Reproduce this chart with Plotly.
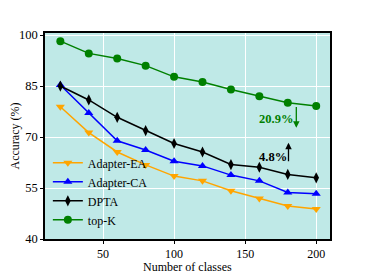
import plotly.graph_objects as go

classes = [20, 40, 60, 80, 100, 120, 140, 160, 180, 200]
adapter_ea = [78.9, 71.3, 65.6, 61.8, 58.5, 57.1, 54.2, 51.9, 49.7, 48.8]
adapter_ca = [85.3, 77.1, 68.9, 66.2, 62.9, 61.5, 58.8, 57.1, 53.7, 53.3]
dpta = [85.0, 80.9, 75.8, 71.9, 68.1, 65.6, 61.9, 61.1, 59.0, 58.0]
top_k = [98.2, 94.6, 93.1, 91.0, 87.7, 86.2, 84.0, 82.0, 80.1, 79.1]
y_ticks = [40, 55, 70, 85, 100]
x_ticks = [50, 100, 150, 200]

FONT = "Liberation Serif"
fig = go.Figure()
series = [
    ("Adapter-EA", adapter_ea, "#FFA500", "triangle-down"),
    ("Adapter-CA", adapter_ca, "#0000FF", "triangle-up"),
    ("DPTA", dpta, "#000000", "diamond-tall"),
    ("top-K", top_k, "#008000", "circle"),
]
for name, ys, col, sym in series:
    fig.add_trace(go.Scatter(x=classes, y=ys, name=name, mode="lines+markers",
                             line=dict(color=col, width=1.5),
                             marker=dict(symbol=sym, size=8, color=col)))

# annotations
fig.add_annotation(x=180.5, y=68.3, ax=180.5, ay=62.4, xref="x", yref="y",
                   axref="x", ayref="y", showarrow=True, arrowhead=2, arrowsize=1,
                   arrowwidth=1.3, arrowcolor="black", text="")
fig.add_annotation(x=169.5, y=64.0, text="<b>4.8%</b>", showarrow=False,
                   font=dict(family=FONT, size=12.5, color="black"))
fig.add_annotation(x=186, y=72.7, ax=186, ay=79.3, xref="x", yref="y",
                   axref="x", ayref="y", showarrow=True, arrowhead=2, arrowsize=1,
                   arrowwidth=1.3, arrowcolor="#008000", text="")
fig.add_annotation(x=171.5, y=75.2, text="<b>20.9%</b>", showarrow=False,
                   font=dict(family=FONT, size=12.5, color="#008000"))

# axis titles
fig.add_annotation(x=0.5, y=-0.138, xref="paper", yref="paper", yanchor="middle",
                   text="Number of classes", showarrow=False,
                   font=dict(family=FONT, size=12))
fig.add_annotation(x=-0.107, y=0.5, xref="paper", yref="paper", xanchor="center",
                   text="Accuracy (%)", showarrow=False, textangle=-90,
                   font=dict(family=FONT, size=12))

# page body has an 8px margin, so the figure is sized to fit the window
fig.update_layout(
    width=358, height=266,
    margin=dict(l=37, r=36, t=25, b=35),
    paper_bgcolor="white", plot_bgcolor="#bfe9e7",
    font=dict(family=FONT, size=12, color="black"),
    showlegend=True,
    legend=dict(x=0.01, y=0.44, xanchor="left", yanchor="top",
                bgcolor="rgba(0,0,0,0)", font=dict(family=FONT, size=12),
                tracegroupgap=0, itemwidth=30),
)

fig.update_xaxes(range=[9.2, 209.7], tickvals=x_ticks, showgrid=True,
                 gridcolor="white", gridwidth=1.2, zeroline=False, automargin=False,
                 showline=True, linecolor="black", linewidth=1.5, mirror=True,
                 ticks="outside", ticklen=3, tickcolor="black",
                 tickfont=dict(size=12))
fig.update_yaxes(range=[40, 100.6], tickvals=y_ticks, showgrid=True,
                 gridcolor="white", gridwidth=1.2, zeroline=False, automargin=False,
                 showline=True, linecolor="black", linewidth=1.5, mirror=True,
                 ticks="outside", ticklen=3, tickcolor="black",
                 tickfont=dict(size=12.5))

fig.write_html("out.html")
